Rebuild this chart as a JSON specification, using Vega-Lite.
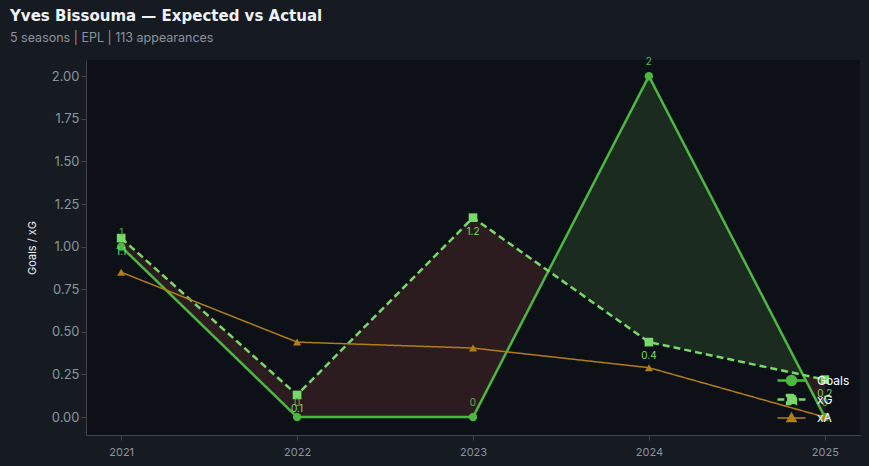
{
  "$schema": "https://vega.github.io/schema/vega-lite/v6.json",
  "width": 774,
  "height": 375,
  "autosize": {"type": "none"},
  "padding": {"left": 86, "top": 60, "right": 9, "bottom": 31},
  "background": "#161b22",
  "title": {
    "text": "Yves Bissouma — Expected vs Actual",
    "subtitle": "5 seasons | EPL | 113 appearances",
    "anchor": "start",
    "frame": "group",
    "dx": -76,
    "offset": 13,
    "font": "DejaVu Sans",
    "fontSize": 15,
    "fontWeight": "bold",
    "color": "#f0f3f6",
    "subtitleFont": "Inter",
    "subtitleFontSize": 12.5,
    "subtitleColor": "#8b949e",
    "subtitlePadding": 8
  },
  "data": {
    "values": [
      {"season": 2021, "Goals": 1, "xG": 1.05, "xA": 0.85},
      {"season": 2022, "Goals": 0, "xG": 0.13, "xA": 0.44},
      {"season": 2023, "Goals": 0, "xG": 1.17, "xA": 0.405},
      {"season": 2024, "Goals": 2, "xG": 0.44, "xA": 0.29},
      {"season": 2025, "Goals": 0, "xG": 0.22, "xA": 0.0}
    ]
  },
  "encoding": {
    "x": {
      "field": "season",
      "type": "quantitative",
      "scale": {"domain": [2020.8, 2025.2], "nice": false, "zero": false},
      "axis": {"values": [2021, 2022, 2023, 2024, 2025], "format": "d", "title": null, "grid": false}
    }
  },
  "layer": [
    {
      "mark": {
        "type": "area",
        "color": {
          "gradient": "linear",
          "x1": 0, "x2": 1, "y1": 0, "y2": 0,
          "stops": [
            {"offset": 0, "color": "#2d1c1f"},
            {"offset": 0.6075, "color": "#2d1c1f"},
            {"offset": 0.6076, "color": "#1b2b1f"},
            {"offset": 0.969, "color": "#1b2b1f"},
            {"offset": 0.9691, "color": "#2d1c1f"},
            {"offset": 1, "color": "#2d1c1f"}
          ]
        }
      },
      "encoding": {
        "y": {"field": "xG", "type": "quantitative"},
        "y2": {"field": "Goals"}
      }
    },
    {
      "transform": [{"fold": ["Goals", "xG", "xA"], "as": ["series", "value"]}],
      "mark": {"type": "line"},
      "encoding": {
        "y": {
          "field": "value",
          "type": "quantitative",
          "scale": {"domain": [-0.105, 2.095], "nice": false, "zero": false},
          "axis": {"values": [0, 0.25, 0.5, 0.75, 1, 1.25, 1.5, 1.75, 2], "format": ".2f", "title": "Goals / xG", "grid": false}
        },
        "color": {
          "field": "series",
          "type": "nominal",
          "scale": {"domain": ["Goals", "xG", "xA"], "range": ["#4cb843", "#79d86a", "#b07e1a"]},
          "legend": {
            "title": null,
            "orient": "bottom-right",
            "offset": 10,
            "padding": 0,
            "rowPadding": 0,
            "symbolSize": 256,
            "symbolStrokeWidth": 2,
            "labelColor": "#ffffff",
            "labelFontSize": 12,
            "labelFont": "Inter",
            "labelOffset": 16,
            "encode": {
              "symbols": {
                "update": {
                  "shape": {"signal": "datum.value === 'Goals' ? 'M-1.75,0H1.75M0.56,0A0.56,0.56 0 1,1 -0.56,0A0.56,0.56 0 1,1 0.56,0Z' : datum.value === 'xG' ? 'M-1.75,0H-0.9M0.9,0H1.75M-0.55,-0.55H0.55V0.55H-0.55Z' : 'M-1.75,0H1.75M0,-0.6L0.58,0.45H-0.58Z'"},
                  "fill": {"signal": "scale('color', datum.value)"},
                  "stroke": {"signal": "scale('color', datum.value)"},
                  "strokeWidth": {"signal": "datum.value === 'xA' ? 1.5 : 2.5"},
                  "strokeDash": {"value": [1, 0]},
                  "opacity": {"value": 1}
                }
              }
            }
          }
        },
        "strokeDash": {
          "field": "series",
          "type": "nominal",
          "scale": {"domain": ["Goals", "xG", "xA"], "range": [[1, 0], [7, 4], [1, 0]]},
          "legend": null
        },
        "strokeWidth": {
          "field": "series",
          "type": "nominal",
          "scale": {"type": "ordinal", "domain": ["Goals", "xG", "xA"], "range": [2.5, 2.5, 1.5]},
          "legend": null
        }
      }
    },
    {
      "mark": {"type": "point", "filled": true, "opacity": 1, "shape": "circle", "size": 70, "color": "#4cb843"},
      "encoding": {"y": {"field": "Goals", "type": "quantitative"}}
    },
    {
      "mark": {"type": "point", "filled": true, "opacity": 1, "shape": "square", "size": 75, "color": "#79d86a"},
      "encoding": {"y": {"field": "xG", "type": "quantitative"}}
    },
    {
      "mark": {"type": "point", "filled": true, "opacity": 1, "shape": "triangle-up", "size": 65, "color": "#b07e1a"},
      "encoding": {"y": {"field": "xA", "type": "quantitative"}}
    },
    {
      "mark": {"type": "text", "dy": -14, "fontSize": 10, "font": "Inter", "color": "#4cb843"},
      "encoding": {
        "y": {"field": "Goals", "type": "quantitative"},
        "text": {"field": "Goals", "type": "quantitative", "format": "d"}
      }
    },
    {
      "mark": {"type": "text", "dy": 14, "fontSize": 10, "font": "Inter", "color": "#79d86a"},
      "encoding": {
        "y": {"field": "xG", "type": "quantitative"},
        "text": {"field": "xG", "type": "quantitative", "format": ".1f"}
      }
    }
  ],
  "config": {
    "view": {"fill": "#0d1117", "stroke": null},
    "axis": {
      "domainColor": "#3d444d",
      "tickColor": "#3d444d",
      "labelColor": "#8b949e",
      "labelFont": "Inter",
      "titleFont": "Inter",
      "titleColor": "#e6edf3",
      "titleFontWeight": "normal",
      "titleFontSize": 11,
      "tickSize": 5
    },
    "axisY": {"labelFontSize": 13, "titlePadding": 14},
    "axisX": {"labelFontSize": 11, "labelPadding": 6}
  }
}
